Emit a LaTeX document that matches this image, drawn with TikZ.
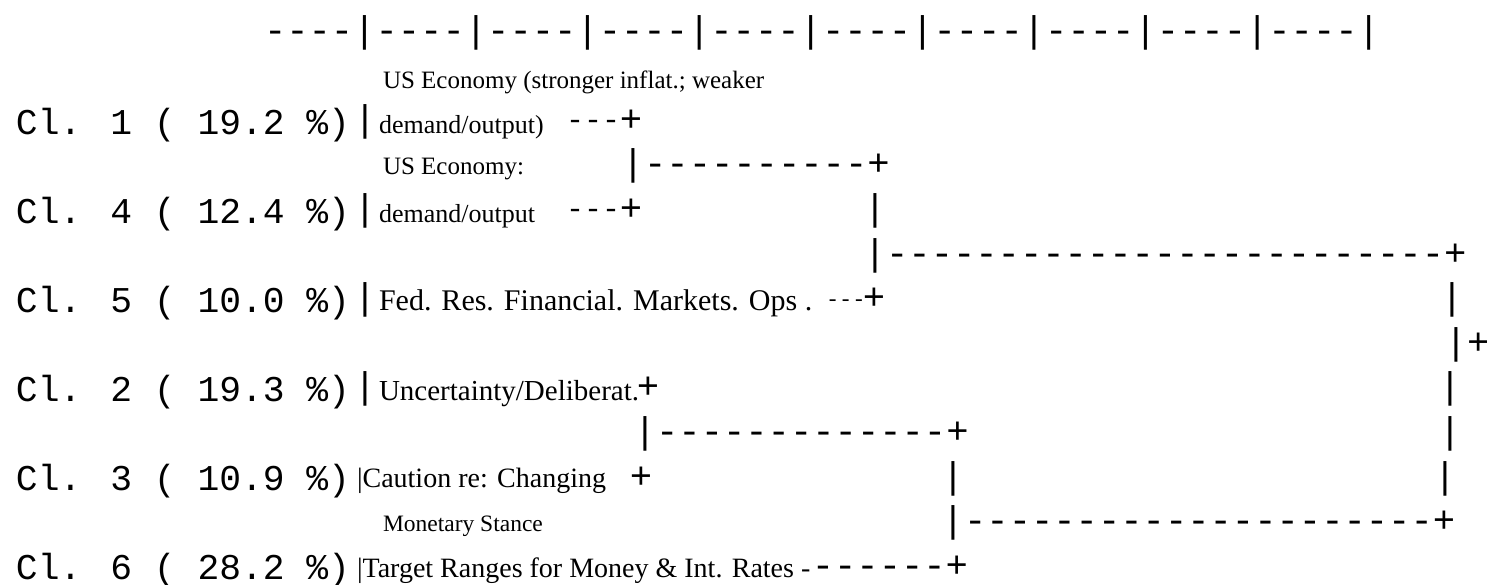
\documentclass[tikz,border=0pt]{standalone}
\usepackage{fontspec}
\setmainfont{Liberation Serif}
\newfontfamily\monof{Liberation Mono}
\begin{document}
\begin{tikzpicture}[x=1pt,y=-1pt,
  mono/.style={anchor=base west,inner sep=0pt,outer sep=0pt,font={\fontsize{37.2}{40}\monof}},
  bar/.style={anchor=base,inner sep=0pt,outer sep=0pt,font={\fontsize{37.2}{40}\monof}},
  lbl/.style={anchor=base west,inner sep=0pt,outer sep=0pt,font={\fontsize{36.3}{40}\monof}},
  mmono/.style={anchor=base west,inner sep=0pt,outer sep=0pt,font={\fontsize{30}{32}\monof}},
  smono/.style={anchor=base west,inner sep=0pt,outer sep=0pt,font={\fontsize{22}{24}\monof}},
  serif/.style={anchor=base west,inner sep=0pt,outer sep=0pt,font={\fontsize{#1}{#1}\selectfont}},
]
\useasboundingbox (0,0) rectangle (1487,584);
% ruler
\node[mono] (ruler) at (264,42.1) {----|----|----|----|----|----|----|----|----|----|};
% row 1
\node[serif=25] (t1) at (383,88) {US Economy (stronger inflat.; weaker};
% row 2
\node[lbl] (c1) at (16,134) {Cl. 1 ( 19.2 \%)};
\node[bar] (b2) at (365,131.3) {\makebox[0pt]{|}};
\node[serif=26] (t2) at (379,133) {demand/output)};
\node[mmono] (d2) at (566,129.6) {---};
\node[mono] (p2) at (619.8,131.3) {+};
% row 3
\node[serif=25] (t3) at (383,174) {US Economy:};
\node[mono] (j3) at (621.8,175.9) {|----------+};
% row 4
\node[lbl] (c4) at (16,223) {Cl. 4 ( 12.4 \%)};
\node[bar] (b4) at (365,220.5) {\makebox[0pt]{|}};
\node[serif=26] (t4) at (379,222) {demand/output};
\node[mmono] (d4) at (566,218.8) {---};
\node[mono] (p4) at (619.8,220.5) {+};
\node[mono] (v4) at (863.8,220.5) {|};
% row 5
\node[mono] (j5) at (863.8,265.1) {|-------------------------+};
% row 6
\node[lbl] (c5) at (16,312) {Cl. 5 ( 10.0 \%)};
\node[bar] (b6) at (365,309.7) {\makebox[0pt]{|}};
\node[serif=30] (t6) at (379,310) {Fed. Res. Financial. Markets. Ops .};
\node[smono] (d6) at (826,306) {---};
\node[mono] (p6) at (862.8,309.7) {+};
\node[mono] (v6) at (1440.8,309.7) {|};
% row 7
\node[mono] (j7) at (1444.8,354.3) {|+};
% row 8
\node[lbl] (c2) at (16,401) {Cl. 2 ( 19.3 \%)};
\node[bar] (b8) at (365,398.9) {\makebox[0pt]{|}};
\node[serif=29] (t8) at (379,400) {Uncertainty/Deliberat.};
\node[mono] (p8) at (636.8,398.9) {+};
\node[mono] (v8) at (1438.8,398.9) {|};
% row 9
\node[mono] (j9) at (633.8,443.5) {|-------------+};
\node[mono] (v9) at (1438.8,443.5) {|};
% row 10
\node[lbl] (c3) at (16,490) {Cl. 3 ( 10.9 \%)};
\node[serif=28] (t10) at (357,487) {|Caution re: Changing};
\node[mono] (p10) at (629.8,488.1) {+};
\node[mono] (v10a) at (941.8,488.1) {|};
\node[mono] (v10b) at (1433.8,488.1) {|};
% row 11
\node[serif=23.5] (t11) at (383,531) {Monetary Stance};
\node[mono] (j11) at (941.8,532.7) {|---------------------+};
% row 12
\node[lbl] (c6) at (16,579) {Cl. 6 ( 28.2 \%)};
\node[serif=28] (t12) at (357,577) {|Target Ranges for Money \& Int. Rates -};
\node[mono] (j12) at (811.8,577.3) {------+};
\end{tikzpicture}
\end{document}
